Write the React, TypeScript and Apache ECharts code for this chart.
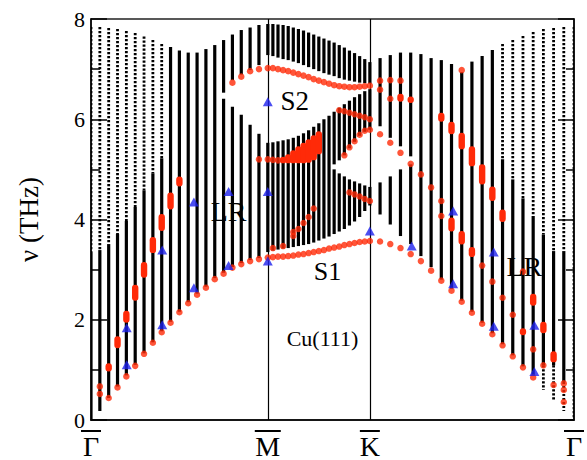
import React, { useEffect, useRef } from "react";
import * as echarts from "echarts";

// High-symmetry points along Γ–M–K–Γ (path length, |ΓK| = 1)
const SYM_POS = [0, 0.866, 1.366, 2.366];
const SYM_NAMES = ["Γ", "M", "K", "Γ"];
const Y_MAX = 8;

// Bulk-band projection, Γ→M: 21 k-points (Γ ... M)
const GM_TOP = [7.84, 7.84, 7.82, 7.8, 7.76, 7.72, 7.65, 7.58, 7.5, 7.44, 7.37, 7.33, 7.33, 7.4, 7.48, 7.58, 7.69, 7.78, 7.83, 7.88, 7.9];
const GM_BOTTOM = [0, 0.18, 0.44, 0.67, 0.89, 1.1, 1.33, 1.55, 1.77, 1.96, 2.16, 2.35, 2.52, 2.66, 2.83, 2.94, 3.05, 3.13, 3.19, 3.23, 3.35];
// above this the column is only sampled sparsely (dotted)
const GM_DOT_ABOVE = [3.35, 3.39, 3.51, 3.71, 3.97, 4.25, 4.58, 4.92, 5.22, null, null, null, null, null, null, null, null, null, null, null, null];
const GM_GAP: ([number, number] | null)[] = [null, null, null, null, null, null, null, null, null, null, null, null, null, null, null, [6.41, 6.53], [6.25, 6.78], [6.09, 6.89], [5.89, 6.98], [5.71, 7.08], [5.53, 7.28]];

// M→K: 20 k-points after M (last one is K)
const MK_TOP = [7.9, 7.89, 7.88, 7.86, 7.83, 7.8, 7.77, 7.73, 7.69, 7.65, 7.61, 7.57, 7.53, 7.48, 7.43, 7.37, 7.32, 7.26, 7.2, 7.14];
const MK_UPPER_LO = [7.26, 7.23, 7.2, 7.18, 7.15, 7.12, 7.08, 7.04, 7.0, 6.96, 6.92, 6.89, 6.86, 6.82, 6.79, 6.77, 6.75, 6.73, 6.72, 6.71];
const MK_MID_TOP = [5.54, 5.56, 5.58, 5.6, 5.63, 5.67, 5.72, 5.78, 5.85, 5.92, 6.0, 6.07, 6.15, 6.23, 6.3, 6.37, 6.44, 6.5, 6.56, 6.6];
const MK_WEDGE: ([number, number] | null)[] = [null, null, null, null, null, null, null, null, null, null, null, null, [5.0, 5.1], [4.92, 5.18], [4.86, 5.28], [4.8, 5.42], [4.76, 5.55], [4.72, 5.67], [4.68, 5.75], [4.65, 5.79]];
const MK_BOTTOM = [3.38, 3.4, 3.42, 3.43, 3.45, 3.47, 3.49, 3.51, 3.54, 3.58, 3.62, 3.66, 3.71, 3.76, 3.81, 3.88, 3.96, 4.05, 4.17, 4.28];

// K→Γ: 20 k-points after K (last one is Γ)
const KG_TOP = [7.22, 7.28, 7.33, 7.33, 7.3, 7.22, 7.18, 7.1, 6.94, 7.15, 7.26, 7.38, 7.5, 7.58, 7.66, 7.74, 7.8, 7.82, 7.84, 7.84];
const KG_BOTTOM = [4.1, 3.9, 3.67, 3.51, 3.27, 3.05, 2.8, 2.62, 2.38, 2.16, 1.94, 1.73, 1.51, 1.29, 1.07, 0.88, 0.6, 0.4, 0.18, 0];
const KG_DOT_ABOVE = [null, null, null, null, null, null, null, null, null, null, null, null, 5.2, 4.8, 4.42, 4.07, 3.7, 3.37, 3.37, 0];
const KG_DOT_BELOW = [null, null, null, null, null, null, null, null, null, null, null, null, null, null, null, null, 1.09, 1.09, 0.76, 0];
const KG_GAP: ([number, number] | null)[] = [[4.74, 5.86], [4.86, 5.63], [5.0, 5.46], [5.1, 5.26], null, null, null, null, null, null, null, null, null, null, null, null, null, null, null, null];

// Surface modes (red)
const S1_GM = [0.52, 0.44, 0.65, 0.87, 1.08, 1.32, 1.54, 1.75, 1.94, 2.15, 2.33, 2.5, 2.64, 2.81, 2.92, 3.04, 3.11, 3.17, 3.21, 3.24];
const S1_MK = [3.25, 3.26, 3.26, 3.27, 3.28, 3.3, 3.31, 3.33, 3.35, 3.37, 3.39, 3.42, 3.44, 3.46, 3.49, 3.51, 3.53, 3.55, 3.56, 3.57];
const S1_KG = [3.56, 3.51, 3.43, 3.31, 3.17, 2.98, 2.78, 2.58, 2.36, 2.14, 1.92, 1.71, 1.49, 1.27, 1.05, 0.85];
const S2_GM = [6.73, 6.85, 6.96, 7.0, 7.02]; // k-points 16..20
const S2_MK = [7.02, 7.0, 6.98, 6.96, 6.93, 6.9, 6.87, 6.84, 6.8, 6.77, 6.74, 6.71, 6.68, 6.66, 6.65, 6.64, 6.64, 6.65, 6.66, 6.67];
const S2_KG = [6.77, 6.78, 6.77];
// further surface-mode points: [k-point index, ν]
const DOTS_GM: [number, number][] = [[1, 0.67], [19, 5.2], [20, 5.2]];
const DOTS_MK: [number, number][] = [
  [1, 5.19], [2, 5.18],
  [1, 3.43], [3, 3.47], [5, 3.67], [5, 3.75], [6, 3.81], [7, 3.93], [8, 4.05], [9, 4.22],
  [15, 5.28], [16, 5.44], [17, 5.56], [18, 5.69], [19, 5.77], [20, 5.79],
  [14, 6.18], [15, 6.16], [16, 6.13], [17, 6.1], [18, 6.07], [19, 6.04], [20, 6.0],
  [16, 4.54], [17, 4.5], [18, 4.46], [19, 4.41], [20, 4.37],
];
const DOTS_KG: [number, number][] = [
  [1, 5.7], [2, 5.53], [3, 5.33], [4, 5.11], [5, 4.9], [6, 4.64], [7, 4.37], [7, 4.07],
  [1, 6.59], [2, 6.41], [9, 6.98],
  [11, 3.08], [12, 2.76], [13, 2.44], [14, 2.1], [15, 2.96], [16, 1.41], [17, 1.09], [18, 0.7],
  [19, 0.73], [19, 0.6], [19, 0.36],
];

// Resonances (elongated red marks): [k-point index, ν low, ν high]
const RES_GM: [number, number, number][] = [[2, 0.97, 1.13], [3, 1.43, 1.67], [4, 1.94, 2.18], [5, 2.38, 2.7], [6, 2.84, 3.15], [7, 3.33, 3.65], [8, 3.77, 4.11], [9, 4.2, 4.54], [10, 4.66, 4.86]];
const RES_MK: [number, number, number][] = [[3, 5.12, 5.25], [4, 5.12, 5.3], [5, 5.12, 5.38], [6, 5.12, 5.46], [7, 5.12, 5.53], [8, 5.13, 5.6], [9, 5.18, 5.68], [10, 5.3, 5.76]];
const RES_KG: [number, number, number][] = [
  [3, 6.35, 6.51], [4, 6.33, 6.45], [7, 5.95, 6.13], [8, 5.7, 5.95], [9, 5.4, 5.73], [10, 5.06, 5.46], [11, 4.7, 5.1], [12, 4.37, 4.66], [13, 3.95, 4.2],
  [8, 3.76, 4.04], [9, 3.5, 3.77], [10, 3.25, 3.45],
  [15, 1.69, 1.83], [16, 2.28, 2.52], [17, 1.73, 1.96], [18, 1.15, 1.37],
];

// Measured points (blue triangles): [k, ν]
const MEASURED: [number, number][] = [
  [0.175, 1.84], [0.175, 1.1], [0.349, 1.9], [0.349, 3.39], [0.504, 4.35], [0.504, 2.64],
  [0.674, 4.56], [0.674, 3.08], [0.866, 6.35], [0.866, 4.56], [0.866, 3.17],
  [1.366, 3.77], [1.571, 3.47], [1.774, 4.17], [1.774, 2.72], [1.973, 3.35], [1.973, 1.87], [2.172, 1.89], [2.172, 0.97],
];

// Annotations: text and [k, ν] of its centre
const NOTE_TEXT = ["S2", "LR", "S1", "LR", "Cu(111)"];
const NOTE_POS: [number, number][] = [[0.9985, 6.37], [0.674, 4.15], [1.159, 2.96], [2.123, 3.06], [1.134, 1.63]];
const NOTE_SIZE = [27, 28, 26, 28, 22];

const SERIF = "'Liberation Serif', 'DejaVu Serif', serif";
const RED = "#ff2a08";
const BLUE = "#1e22ee";

const kGM = (i: number) => (SYM_POS[1] * i) / 20;
const kMK = (j: number) => SYM_POS[1] + ((SYM_POS[2] - SYM_POS[1]) * j) / 20;
const kKG = (m: number) => SYM_POS[2] + ((SYM_POS[3] - SYM_POS[2]) * m) / 20;

// Split one bulk column into solid / dotted pieces, removing empty windows.
function column(k: number, bottom: number, top: number, gaps: ([number, number] | null)[], dotAbove: number | null, dotBelow: number | null) {
  let parts: [number, number][] = [[bottom, top]];
  for (const g of gaps) {
    if (!g) continue;
    const next: [number, number][] = [];
    for (const [a, b] of parts) {
      if (g[1] <= a || g[0] >= b) { next.push([a, b]); continue; }
      if (g[0] > a) next.push([a, g[0]]);
      if (g[1] < b) next.push([g[1], b]);
    }
    parts = next;
  }
  const out: number[][] = [];
  for (const [a, b] of parts) {
    const cuts = [a];
    if (dotBelow != null && dotBelow > a && dotBelow < b) cuts.push(dotBelow);
    if (dotAbove != null && dotAbove > a && dotAbove < b) cuts.push(dotAbove);
    cuts.push(b);
    for (let n = 0; n < cuts.length - 1; n++) {
      const lo = cuts[n], hi = cuts[n + 1], mid = (lo + hi) / 2;
      const dotted = (dotAbove != null && mid > dotAbove) || (dotBelow != null && mid < dotBelow) ? 1 : 0;
      out.push([k, lo, hi, dotted]);
    }
  }
  return out;
}

function bulkColumns() {
  const out: number[][] = [];
  GM_TOP.forEach((top, i) => out.push(...column(kGM(i), GM_BOTTOM[i], top, [GM_GAP[i]], GM_DOT_ABOVE[i], null)));
  MK_TOP.forEach((top, n) => out.push(...column(kMK(n + 1), MK_BOTTOM[n], top, [[MK_MID_TOP[n], MK_UPPER_LO[n]], MK_WEDGE[n]], null, null)));
  KG_TOP.forEach((top, n) => out.push(...column(kKG(n + 1), KG_BOTTOM[n], top, [KG_GAP[n]], KG_DOT_ABOVE[n], KG_DOT_BELOW[n])));
  return out;
}

function redDots() {
  const pts: number[][] = [];
  S1_GM.forEach((v, n) => pts.push([kGM(n + 1), v]));
  S1_MK.forEach((v, n) => pts.push([kMK(n + 1), v]));
  S1_KG.forEach((v, n) => pts.push([kKG(n + 1), v]));
  S2_GM.forEach((v, n) => pts.push([kGM(n + 16), v]));
  S2_MK.forEach((v, n) => pts.push([kMK(n + 1), v]));
  S2_KG.forEach((v, n) => pts.push([kKG(n + 1), v]));
  DOTS_GM.forEach(([i, v]) => pts.push([kGM(i), v]));
  DOTS_MK.forEach(([j, v]) => pts.push([kMK(j), v]));
  DOTS_KG.forEach(([m, v]) => pts.push([kKG(m), v]));
  return pts;
}

function resonances() {
  return [
    ...RES_GM.map(([i, lo, hi]) => [kGM(i), lo, hi]),
    ...RES_MK.map(([j, lo, hi]) => [kMK(j), lo, hi]),
    ...RES_KG.map(([m, lo, hi]) => [kKG(m), lo, hi]),
  ];
}

function buildOption(): echarts.EChartsOption {
  const yAxisCommon = {
    type: "value" as const,
    min: 0,
    max: Y_MAX,
    interval: 2,
    splitLine: { show: false },
    axisLine: { show: true, lineStyle: { color: "#000", width: 1.5 } },
    axisTick: { show: true, inside: true, length: 16, lineStyle: { color: "#000", width: 1.5 } },
    minorTick: { show: true, splitNumber: 2, length: 9, lineStyle: { color: "#000", width: 1.5 } },
  };
  return {
    animation: false,
    backgroundColor: "#fff",
    grid: { left: 91, right: 7, top: 19, bottom: 38, show: true, borderColor: "#222", borderWidth: 1.5 },
    xAxis: {
      type: "value",
      min: SYM_POS[0],
      max: SYM_POS[3],
      splitLine: { show: false },
      axisTick: { show: false },
      axisLine: { show: true, onZero: false, lineStyle: { color: "#000", width: 1.5 } },
      axisLabel: {
        customValues: SYM_POS,
        showMinLabel: true,
        showMaxLabel: true,
        margin: 8,
        formatter: (v: number) => {
          const idx = SYM_POS.findIndex((p) => Math.abs(p - v) < 1e-6);
          const name = SYM_NAMES[idx] ?? "";
          return `{${name === "M" ? "barW" : "bar"}|}\n{t|${name}}`;
        },
        rich: {
          bar: { width: 20, height: 2, lineHeight: 6, backgroundColor: "#000" },
          barW: { width: 26, height: 2, lineHeight: 6, backgroundColor: "#000" },
          t: { fontSize: 28, lineHeight: 24, fontFamily: SERIF, color: "#000" },
        },
      },
    } as any,
    yAxis: [
      {
        ...yAxisCommon,
        position: "left",
        name: "ν (THz)",
        nameLocation: "middle",
        nameGap: 49,
        nameRotate: 90,
        nameTextStyle: { fontSize: 27, fontFamily: SERIF, color: "#000" },
        axisLabel: { fontSize: 22, fontFamily: SERIF, color: "#000", margin: 6 },
      },
      {
        ...yAxisCommon,
        position: "right",
        axisLabel: { show: false },
        minorTick: { show: true, splitNumber: 2, length: 8, lineStyle: { color: "#000", width: 1.5 } },
      },
    ],
    series: [
      {
        type: "custom",
        name: "bulk",
        z: 2,
        clip: true,
        data: bulkColumns(),
        encode: { x: 0, y: [1, 2] },
        renderItem: (_params: any, api: any) => {
          const k = api.value(0), lo = api.value(1), hi = api.value(2), dotted = api.value(3);
          const top = api.coord([k, hi]);
          const bot = api.coord([k, lo]);
          if (dotted) {
            return {
              type: "line",
              shape: { x1: top[0], y1: top[1], x2: bot[0], y2: bot[1] },
              style: { stroke: "#000", lineWidth: 2.8, lineDash: [2.2, 1.8] },
            };
          }
          return {
            type: "rect",
            shape: { x: top[0] - 1.6, y: top[1], width: 3.2, height: Math.max(bot[1] - top[1], 1) },
            style: { fill: "#000" },
          };
        },
      },
      {
        type: "line",
        name: "symmetry lines",
        z: 3,
        data: [],
        markLine: {
          silent: true,
          symbol: "none",
          label: { show: false },
          lineStyle: { color: "#000", width: 1.2, type: "solid" },
          data: [{ xAxis: SYM_POS[1] }, { xAxis: SYM_POS[2] }],
        },
      },
      {
        type: "custom",
        name: "resonances",
        z: 4,
        data: resonances(),
        encode: { x: 0, y: [1, 2] },
        renderItem: (_params: any, api: any) => {
          const k = api.value(0);
          const top = api.coord([k, api.value(2)]);
          const bot = api.coord([k, api.value(1)]);
          const w = 6.4;
          const h = Math.max(bot[1] - top[1], w);
          const y = (top[1] + bot[1]) / 2 - h / 2;
          return { type: "rect", shape: { x: top[0] - w / 2, y, width: w, height: h, r: w / 2 }, style: { fill: RED } };
        },
      },
      {
        type: "scatter",
        name: "surface modes",
        z: 5,
        symbol: "circle",
        symbolSize: 6.5,
        itemStyle: { color: RED },
        data: redDots(),
      },
      {
        type: "scatter",
        name: "measured",
        z: 6,
        symbol: "triangle",
        symbolSize: [10, 9],
        itemStyle: { color: BLUE },
        data: MEASURED,
      },
      {
        type: "custom",
        name: "notes",
        z: 7,
        silent: true,
        data: NOTE_POS.map((p, n) => [p[0], p[1], n]),
        encode: { x: 0, y: 1 },
        renderItem: (_params: any, api: any) => {
          const n = api.value(2);
          const c = api.coord([api.value(0), api.value(1)]);
          return {
            type: "text",
            x: c[0],
            y: c[1],
            style: {
              text: NOTE_TEXT[n],
              fontSize: NOTE_SIZE[n],
              fontFamily: SERIF,
              fill: "#000",
              align: "center",
              verticalAlign: "middle",
            },
          };
        },
      },
    ],
  } as echarts.EChartsOption;
}

export default function App() {
  const ref = useRef<HTMLDivElement>(null);
  useEffect(() => {
    if (!ref.current) return;
    const chart = echarts.init(ref.current, null, { renderer: "svg" });
    chart.setOption(buildOption());
    return () => chart.dispose();
  }, []);
  return (
    <div
      ref={ref}
      style={{ position: "fixed", left: 0, top: 0, width: 587, height: 460, background: "#fff" }}
    />
  );
}
